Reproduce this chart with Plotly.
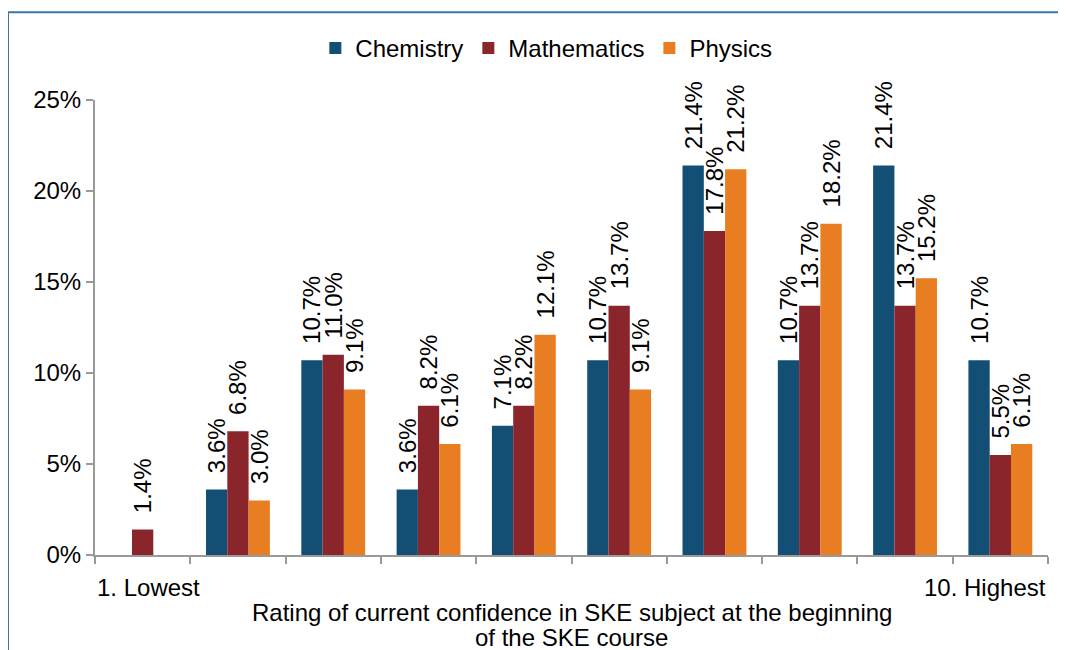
import plotly.graph_objects as go

categories = ["1", "2", "3", "4", "5", "6", "7", "8", "9", "10"]
tick_labels = ["1. Lowest", "", "", "", "", "", "", "", "", "10. Highest"]
chemistry = [0, 3.6, 10.7, 3.6, 7.1, 10.7, 21.4, 10.7, 21.4, 10.7]
mathematics = [1.4, 6.8, 11.0, 8.2, 8.2, 13.7, 17.8, 13.7, 13.7, 5.5]
physics = [0, 3.0, 9.1, 6.1, 12.1, 9.1, 21.2, 18.2, 15.2, 6.1]
x_title_lines = ["Rating of current confidence in SKE subject at the beginning",
                 "of the SKE course"]

series = [
    ("Chemistry", chemistry, "#134F75"),
    ("Mathematics", mathematics, "#8B252C"),
    ("Physics", physics, "#E87E21"),
]

FONT = "Liberation Sans, Arial, sans-serif"
PAD = "\u00a0\u00a0"  # small gap between bar top and its label

fig = go.Figure()
for name, vals, color in series:
    fig.add_trace(go.Bar(
        x=categories,
        y=[v / 100 for v in vals],
        name=name,
        marker=dict(color=color, line=dict(width=0)),
        text=[f"{PAD}{v:.1f}%" if v > 0 else "" for v in vals],
        textposition="outside",
        textangle=-90,
        constraintext="none",
        cliponaxis=False,
        textfont=dict(size=24, color="#000000", family=FONT),
    ))

# the page adds an 8px body margin, so offsets are shifted back by 8px
fig.update_layout(
    width=1066, height=650,
    margin=dict(l=87, r=26, t=92, b=103),
    paper_bgcolor="white", plot_bgcolor="white",
    barmode="group", bargap=0.33, bargroupgap=0,
    font=dict(family=FONT, size=24, color="#000000"),
    showlegend=True,
    legend=dict(
        orientation="h", xref="container", yref="container",
        x=0.505, xanchor="center", y=0.938, yanchor="middle",
        font=dict(size=24), traceorder="normal",
    ),
    shapes=[dict(
        type="rect", xref="paper", yref="paper",
        x0=-0.0913, x1=1.05, y0=-0.4, y1=1.193,
        line=dict(color="#3A75A8", width=2), layer="below",
    )],
    annotations=[
        dict(text=tick_labels[0], xref="paper", yref="paper", x=0, y=0,
             xanchor="left", yanchor="middle", yshift=-32, showarrow=False,
             font=dict(size=24)),
        dict(text=tick_labels[-1], xref="paper", yref="paper", x=1, y=0,
             xanchor="right", yanchor="middle", yshift=-32, showarrow=False,
             font=dict(size=24)),
        dict(text=x_title_lines[0], xref="paper", yref="paper", x=0.5, y=0,
             xanchor="center", yanchor="middle", yshift=-57, showarrow=False,
             font=dict(size=24)),
        dict(text=x_title_lines[1], xref="paper", yref="paper", x=0.5, y=0,
             xanchor="center", yanchor="middle", yshift=-82, showarrow=False,
             font=dict(size=24)),
    ],
)

fig.update_xaxes(
    tickvals=categories, tickson="boundaries", showticklabels=False,
    ticks="outside", ticklen=7, tickcolor="#999999", tickwidth=2,
    showline=True, linecolor="#999999", linewidth=2,
    showgrid=False, automargin=False,
)
fig.update_yaxes(
    range=[0, 0.25], dtick=0.05, tickformat=".0%",
    ticks="outside", ticklen=7, tickcolor="#999999", tickwidth=2,
    showline=True, linecolor="#999999", linewidth=2,
    showgrid=False, zeroline=False, tickfont=dict(size=24),
    automargin=False,
)

fig.write_html("out.html")
